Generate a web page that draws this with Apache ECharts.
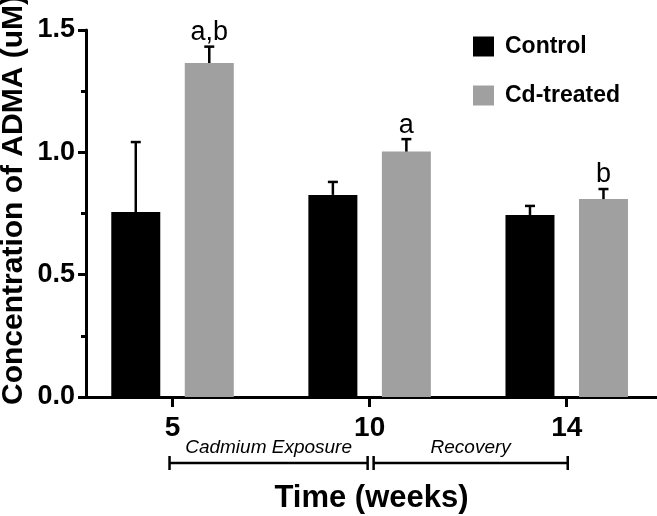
<!DOCTYPE html>
<html><head><meta charset="utf-8">
<script src="https://cdn.jsdelivr.net/npm/echarts@6/dist/echarts.min.js"></script>
<style>html,body{margin:0;padding:0;background:#fff;} #c{width:657px;height:516px;}</style>
</head><body><div id="c"></div>
<script>
// ---- data ----
const weeks = ['5', '10', '14'];
const controlMean = [0.756, 0.826, 0.744];
const controlErr = [0.286, 0.053, 0.037];
const cdMean = [1.365, 1.003, 0.809];
const cdErr = [0.067, 0.051, 0.041];
const controlSig = ['', '', ''];
const cdSig = ['a,b', 'a', 'b'];
const yTicks = [0, 0.5, 1.0, 1.5];
const periods = ['Cadmium Exposure', 'Recovery'];
const periodSpans = [[0, 1], [1, 2]];

// ---- style ----
const FONT = "'Liberation Sans', Arial, Helvetica, sans-serif";
const BAR_W = 49, BAR_GAP = 0.5;
const HALF = (BAR_W + BAR_W * BAR_GAP) / 2;
const xPos = weeks.map((w, i) => i + 1);

function errSeries(means, errs, sigs, offset) {
  return {
    type: 'custom',
    z: 5,
    clip: false,
    silent: true,
    data: means.map((m, i) => [xPos[i], m, m + errs[i]]),
    renderItem: function (params, api) {
      const p0 = api.coord([api.value(0), api.value(1)]);
      const p1 = api.coord([api.value(0), api.value(2)]);
      const x = p0[0] + offset;
      const ls = { stroke: '#000', lineWidth: 2.5 };
      const children = [
        { type: 'line', shape: { x1: x, y1: p0[1], x2: x, y2: p1[1] }, style: ls },
        { type: 'line', shape: { x1: x - 5, y1: p1[1], x2: x + 5, y2: p1[1] }, style: ls }
      ];
      const s = sigs[params.dataIndex];
      if (s) {
        children.push({
          type: 'text',
          style: { text: s, x: x, y: p1[1] - 0.5, align: 'center', verticalAlign: 'bottom',
                   font: "27px " + FONT, fill: '#000' }
        });
      }
      return { type: 'group', children: children };
    }
  };
}

const chart = echarts.init(document.getElementById('c'));
chart.setOption({
  animation: false,
  backgroundColor: '#fff',
  grid: { left: 86, right: 0, top: 30, bottom: 119, containLabel: false, outerBoundsMode: 'none' },
  legend: {
    data: ['Control', 'Cd-treated'],
    orient: 'vertical', left: 473, top: 35, padding: 0,
    icon: 'rect', itemWidth: 21, itemHeight: 20, itemGap: 26,
    selectedMode: false,
    textStyle: { fontSize: 23, fontWeight: 'bold', color: '#000', fontFamily: FONT, padding: [0, 0, 0, 6] }
  },
  xAxis: {
    type: 'value', min: 0.561, max: 3.458,
    axisLine: { show: true, onZero: false, lineStyle: { color: '#000', width: 3 } },
    axisTick: { show: true, customValues: xPos, length: 10, lineStyle: { color: '#000', width: 3 } },
    axisLabel: { customValues: xPos, formatter: v => weeks[Math.round(v) - 1], fontSize: 28, fontWeight: 'bold',
                 color: '#000', margin: 17, fontFamily: FONT },
    splitLine: { show: false },
    name: 'Time (weeks)', nameLocation: 'middle', nameGap: 86,
    nameTextStyle: { fontSize: 31, fontWeight: 'bold', color: '#000', fontFamily: FONT }
  },
  yAxis: {
    type: 'value', min: yTicks[0], max: yTicks[yTicks.length - 1], interval: yTicks[1] - yTicks[0],
    axisLine: { show: true, lineStyle: { color: '#000', width: 3 } },
    axisTick: { show: true, length: 8, lineStyle: { color: '#000', width: 3 } },
    minorTick: { show: true, splitNumber: 2, length: 5, lineStyle: { color: '#000', width: 3 } },
    axisLabel: { formatter: v => v.toFixed(1), fontSize: 27, fontWeight: 'bold', color: '#000', margin: 11, fontFamily: FONT },
    splitLine: { show: false }
  },
  series: [
    { name: 'Control', type: 'bar', barWidth: BAR_W, barGap: (BAR_GAP * 100) + '%',
      itemStyle: { color: '#000' }, data: controlMean.map((v, i) => [xPos[i], v]) },
    { name: 'Cd-treated', type: 'bar', barWidth: BAR_W, barGap: (BAR_GAP * 100) + '%',
      itemStyle: { color: '#a0a0a0' }, data: cdMean.map((v, i) => [xPos[i], v]) },
    errSeries(controlMean, controlErr, controlSig, -HALF),
    errSeries(cdMean, cdErr, cdSig, HALF)
  ]
});

// annotations below the axis, positioned from the axis scale
const px = i => chart.convertToPixel({ xAxisIndex: 0 }, xPos[i]);
const BY = 463, CAP = 7, TY = 448;
const gfx = [];
periods.forEach((p, k) => {
  const l = px(periodSpans[k][0]) + (k === 0 ? -3 : 4);
  const r = px(periodSpans[k][1]) + (k === periods.length - 1 ? 1 : -2);
  const ls = { stroke: '#000', lineWidth: 2.5 };
  gfx.push({ type: 'line', shape: { x1: l, y1: BY, x2: r, y2: BY }, style: ls });
  gfx.push({ type: 'line', shape: { x1: l, y1: BY - CAP, x2: l, y2: BY + CAP }, style: ls });
  gfx.push({ type: 'line', shape: { x1: r, y1: BY - CAP, x2: r, y2: BY + CAP }, style: ls });
  gfx.push({ type: 'text', x: (l + r) / 2, y: TY,
             style: { text: p, align: 'center', verticalAlign: 'middle', font: 'italic 19px ' + FONT, fill: '#000' } });
});
gfx.push({ type: 'text', x: 14, y: 200, rotation: Math.PI / 2,
           style: { text: 'Concentration of ADMA (uM)', align: 'center', verticalAlign: 'middle',
                    font: 'bold 30px ' + FONT, fill: '#000' } });
chart.setOption({ graphic: gfx });
</script>
</body></html>
